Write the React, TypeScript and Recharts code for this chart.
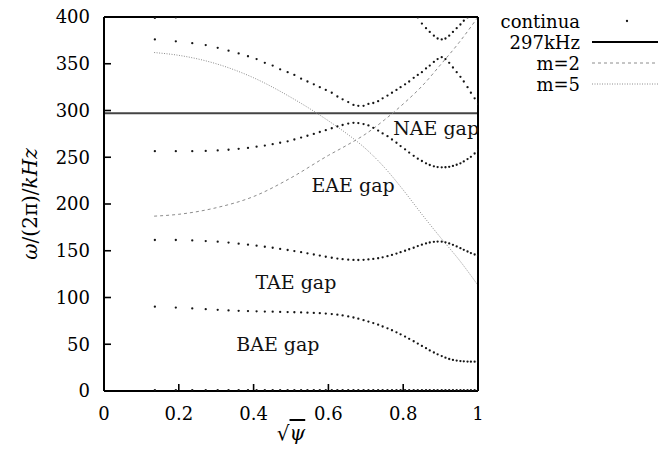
import React from 'react';
import { ComposedChart, Scatter, Line, XAxis, YAxis, ReferenceLine, ReferenceDot } from 'recharts';

// radial grid of the continuum solver (sqrt(psi))
const sqrtPsi = [
  0.136, 0.192, 0.236, 0.272, 0.304, 0.333, 0.360, 0.385, 0.408, 0.430,
  0.451, 0.471, 0.491, 0.509, 0.527, 0.544, 0.561, 0.577, 0.593, 0.609,
  0.624, 0.638, 0.653, 0.667, 0.680, 0.694, 0.707, 0.720, 0.733, 0.745,
  0.758, 0.770, 0.782, 0.793, 0.805, 0.816, 0.828, 0.839, 0.850, 0.861,
  0.871, 0.882, 0.892, 0.903, 0.913, 0.923, 0.933, 0.943, 0.953, 0.962,
  0.972, 0.981, 0.991, 1.000,
];

// continuum branches (kHz); null = outside the plotted range
const branchZero = [
  1, 1, 1, 1, 1, 1, 1, 1, 1, 1, 1, 1, 1, 1, 1, 1, 1, 1, 1, 1, 1, 1, 1, 1, 1, 1, 1,
  1, 1, 1, 1, 1, 1, 1, 1, 1, 1, 1, 1, 1, 1, 1, 1, 1, 1, 1, 1, 1, 1, 1, 1, 1, 1, 1,
];
const branchBAE = [
  90.2, 89.2, 88.3, 87.5, 86.8, 86.2, 85.8, 85.5, 85.2, 85.0,
  84.8, 84.6, 84.4, 84.2, 84.0, 83.8, 83.5, 83.2, 82.8, 82.3,
  81.6, 80.8, 79.8, 78.6, 77.3, 75.8, 74.3, 72.6, 70.9, 69.0,
  67.0, 65.0, 62.8, 60.6, 58.2, 55.8, 53.2, 50.7, 48.2, 45.8,
  43.4, 41.2, 39.2, 37.3, 35.6, 34.2, 33.2, 32.5, 32.0, 31.7,
  31.5, 31.4, 31.4, 31.4,
];
const branchTAE = [
  161.5, 161.5, 161.0, 160.4, 159.7, 158.7, 157.6, 156.5, 155.4, 154.3,
  153.2, 152.0, 150.8, 149.7, 148.5, 147.2, 146.0, 144.8, 143.6, 142.5,
  141.6, 141.0, 140.5, 140.2, 140.1, 140.3, 140.7, 141.3, 142.0, 143.0,
  144.2, 145.5, 147.0, 148.5, 150.0, 151.6, 153.2, 155.0, 156.5, 157.8,
  158.8, 159.5, 159.8, 159.7, 159.0, 157.8, 156.3, 154.6, 152.8, 151.0,
  149.2, 147.5, 146.0, 145.0,
];
const branchEAE = [
  256.5, 256.5, 256.5, 256.8, 257.3, 258.0, 259.0, 260.0, 261.3, 262.5,
  264.0, 265.5, 267.0, 269.0, 271.0, 273.0, 275.0, 277.0, 279.0, 281.0,
  283.0, 284.5, 286.0, 286.8, 286.5, 285.5, 284.0, 281.5, 278.5, 275.5,
  272.5, 269.0, 265.5, 262.0, 258.5, 255.0, 251.5, 248.5, 246.0, 243.5,
  241.7, 240.3, 239.5, 239.2, 239.3, 239.8, 240.7, 242.0, 243.5, 245.5,
  248.0, 250.5, 254.0, 257.0,
];
const branchNAE = [
  376, 374, 372, 370, 367, 364, 361, 358, 355, 351,
  348, 344, 341, 338, 334, 331, 328, 325, 322, 319,
  315, 312, 309, 306, 305, 305, 307, 308, 310, 313,
  316, 319, 322, 325, 328, 331, 335, 338, 341, 345,
  348, 352, 355, 357, 355, 351, 346, 341, 336, 331,
  325, 319, 313, 307,
];
const branchTop = [
  399, 399.5, null, null, null, null, null, null, null, null,
  null, null, null, null, null, null, null, null, null, null,
  null, null, null, null, null, null, null, null, null, null,
  null, null, null, null, null, null, null, 399.5, 393, 388,
  384, 380, 377, 376, 377, 380, 384, 388, 392, 396,
  399.5, null, null, null,
];
const branches = [branchZero, branchBAE, branchTAE, branchEAE, branchNAE, branchTop];

// cylindrical Alfven branches
const m2X = [0.134, 0.2, 0.3, 0.4, 0.5, 0.6, 0.65, 0.7, 0.75, 0.8, 0.85, 0.9, 0.95, 1.0];
const m2Y = [187, 189, 196, 208, 228, 252, 263, 275, 290, 307, 326, 349, 373, 400];
const m5X = [0.134, 0.2, 0.3, 0.4, 0.5, 0.55, 0.6, 0.65, 0.7, 0.75, 0.8, 0.85, 0.9, 0.95, 1.0];
const m5Y = [362, 359, 350, 335, 314, 302, 289, 275, 259, 239, 215, 189, 164, 140, 113];

const freqLine = 297;

const xTicks = [0, 0.2, 0.4, 0.6, 0.8, 1];
const yTicks = [0, 50, 100, 150, 200, 250, 300, 350, 400];

const gapNames = ['BAE gap', 'TAE gap', 'EAE gap', 'NAE gap'];
const gapX = [0.465, 0.513, 0.666, 0.888];
const gapY = [50, 116.6, 220, 281];

const legendNames = ['continua', '297kHz', 'm=2', 'm=5'];

const continuaData: { x: number; y: number }[] = [];
branches.forEach((b) => {
  b.forEach((v, i) => {
    if (v !== null) continuaData.push({ x: sqrtPsi[i], y: v as number });
  });
});
const m2Data = m2X.map((x, i) => ({ x, y: m2Y[i] }));
const m5Data = m5X.map((x, i) => ({ x, y: m5Y[i] }));

const FONT = "'DejaVu Serif', serif";

const DotShape = (p: any) => <circle cx={p.cx} cy={p.cy} r={1.15} fill="#151515" />;

const axisLine = { stroke: '#000', strokeWidth: 2 };
const tickLine = { stroke: '#000', strokeWidth: 1.6 };

const XLabel = (props: any) => {
  const vb = props.viewBox || {};
  const cx = vb.x + vb.width / 2;
  const cy = vb.y + 42;
  return (
    <text x={cx} y={cy} textAnchor="middle" dominantBaseline="central" fontFamily={FONT} fontSize={20} fill="#000">
      √<tspan fontStyle="italic" style={{ textDecoration: 'overline' }}>ψ</tspan>
    </text>
  );
};

const YLabel = (props: any) => {
  const vb = props.viewBox || {};
  const cx = 22;
  const cy = vb.y + vb.height / 2;
  return (
    <text x={cx} y={cy} transform={`rotate(-90 ${cx} ${cy})`} textAnchor="middle" dominantBaseline="central" fontFamily={FONT} fontSize={20} fill="#000">
      <tspan fontStyle="italic">ω</tspan>/(2π)/<tspan fontStyle="italic">kHz</tspan>
    </text>
  );
};

// legend rows, container coordinates
const legendRowY = [23, 44, 65, 86];

export default function App() {
  return (
    <div style={{ position: 'relative', top: -10, width: 661, height: 457, background: '#fff' }}>
      <ComposedChart width={661} height={457} margin={{ top: 18, right: 190, bottom: 0, left: 0 }}>
        <XAxis
          xAxisId={0}
          dataKey="x"
          type="number"
          domain={[0, 1]}
          ticks={xTicks}
          interval={0}
          allowDataOverflow
          height={64}
          tickSize={-7}
          tickMargin={23}
          axisLine={axisLine}
          tickLine={tickLine}
          tick={{ fill: '#000', fontSize: 18, fontFamily: FONT }}
          label={{ content: XLabel }}
        />
        <XAxis
          xAxisId="top"
          orientation="top"
          type="number"
          domain={[0, 1]}
          ticks={xTicks}
          interval={0}
          height={1}
          tickSize={-7}
          axisLine={axisLine}
          tickLine={tickLine}
          tick={false}
        />
        <YAxis
          yAxisId={0}
          dataKey="y"
          type="number"
          domain={[0, 400]}
          ticks={yTicks}
          interval={0}
          allowDataOverflow
          width={96}
          tickSize={-7}
          tickMargin={21}
          axisLine={axisLine}
          tickLine={tickLine}
          tick={{ fill: '#000', fontSize: 18, fontFamily: FONT }}
          label={{ content: YLabel }}
        />
        <YAxis
          yAxisId="right"
          orientation="right"
          type="number"
          domain={[0, 400]}
          ticks={yTicks}
          interval={0}
          width={1}
          tickSize={-7}
          axisLine={axisLine}
          tickLine={tickLine}
          tick={false}
        />
        <ReferenceLine y={freqLine} stroke="#444" strokeWidth={2} ifOverflow="hidden" />
        <Line
          data={m2Data}
          dataKey="y"
          type="monotone"
          stroke="#8c8c8c"
          strokeWidth={1}
          strokeDasharray="3 3"
          dot={false}
          isAnimationActive={false}
        />
        <Line
          data={m5Data}
          dataKey="y"
          type="monotone"
          stroke="#8c8c8c"
          strokeWidth={1}
          strokeDasharray="1 1.5"
          dot={false}
          isAnimationActive={false}
        />
        <Scatter data={continuaData} dataKey="y" shape={DotShape} isAnimationActive={false} />
        {gapNames.map((name, i) => (
          <ReferenceDot
            key={name}
            x={gapX[i]}
            y={gapY[i]}
            r={0}
            ifOverflow="visible"
            shape={(p: any) => (
              <text x={p.cx} y={p.cy} textAnchor="middle" dominantBaseline="central" fontFamily={FONT} fontSize={19} fill="#111">
                {name}
              </text>
            )}
          />
        ))}
      </ComposedChart>
      <svg style={{ position: 'absolute', left: 0, top: 0, pointerEvents: 'none' }} width={661} height={120}>
        {legendNames.map((name, i) => (
          <text key={name} x={572} y={legendRowY[i]} textAnchor="end" dominantBaseline="central" fontFamily={FONT} fontSize={18} fill="#000">
            {name}
          </text>
        ))}
        <circle cx={619} cy={legendRowY[0]} r={1.15} fill="#151515" />
        <line x1={584} x2={650} y1={legendRowY[1]} y2={legendRowY[1]} stroke="#000" strokeWidth={2} />
        <line x1={584} x2={650} y1={legendRowY[2]} y2={legendRowY[2]} stroke="#8c8c8c" strokeWidth={1} strokeDasharray="3 3" />
        <line x1={584} x2={650} y1={legendRowY[3]} y2={legendRowY[3]} stroke="#8c8c8c" strokeWidth={1} strokeDasharray="1 1.5" />
      </svg>
    </div>
  );
}
